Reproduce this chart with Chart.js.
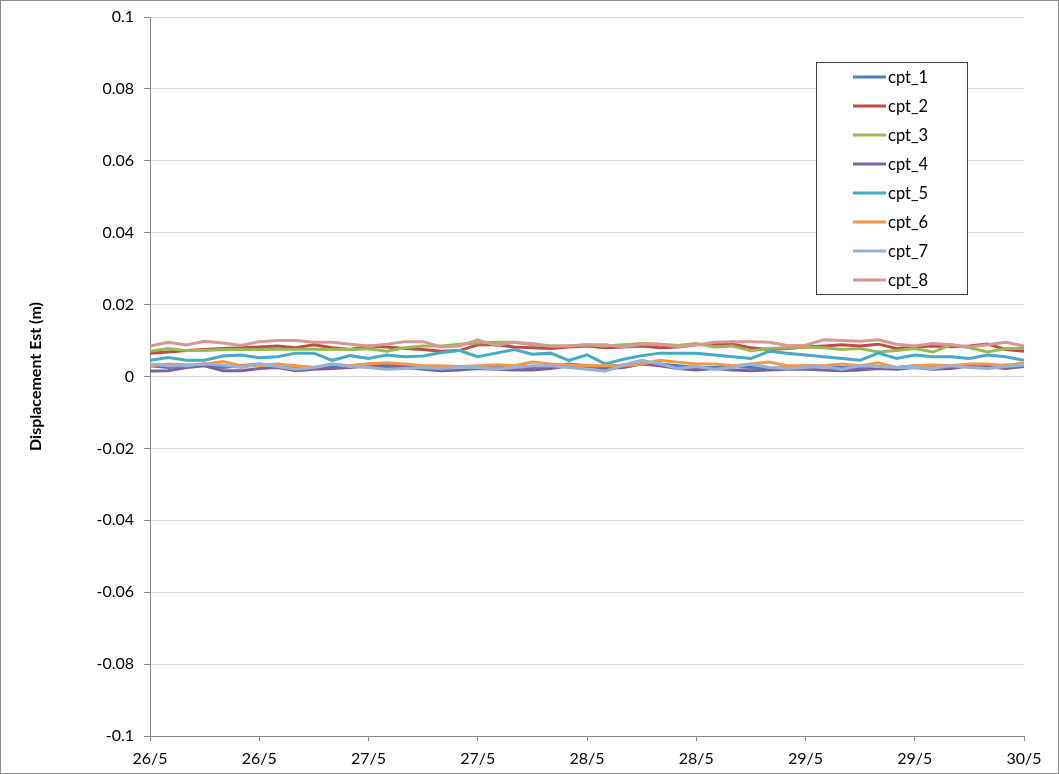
<!DOCTYPE html>
<html>
<head>
<meta charset="utf-8">
<script src="https://cdn.jsdelivr.net/npm/chart.js@4.4.1/dist/chart.umd.min.js"></script>
<style>
  html, body { margin: 0; padding: 0; background: #fff; }
  #wrap { width: 1059px; height: 774px; }
</style>
</head>
<body>
<div id="wrap"><canvas id="myChart" width="1059" height="774"></canvas></div>
<script>
// hours since 26/5 00:00
const hours = [0, 2, 4, 6, 8, 10, 12, 14, 16, 18, 20, 22, 24, 26, 28, 30, 32, 34, 36, 38, 40, 42, 44, 46, 48,
  50, 52, 54, 56, 58, 60, 62, 64, 66, 68, 70, 72, 74, 76, 78, 80, 82, 84, 86, 88, 90, 92, 94, 96];

const tickLabels = ["26/5", "26/5", "27/5", "27/5", "28/5", "28/5", "29/5", "29/5", "30/5"];

const cpt1 = [0.0030, 0.0025, 0.0030, 0.0035, 0.0025, 0.0030, 0.0035, 0.0030, 0.0028, 0.0025,
  0.0028, 0.0030, 0.0035, 0.0032, 0.0030, 0.0028, 0.0025, 0.0025, 0.0028, 0.0030,
  0.0025, 0.0025, 0.0030, 0.0035, 0.0030, 0.0028, 0.0032, 0.0035, 0.0035, 0.0030,
  0.0025, 0.0025, 0.0028, 0.0025, 0.0022, 0.0025, 0.0030, 0.0028, 0.0025, 0.0025,
  0.0028, 0.0025, 0.0030, 0.0028, 0.0025, 0.0030, 0.0028, 0.0032, 0.0030];
const cpt2 = [0.0065, 0.0068, 0.0072, 0.0075, 0.0078, 0.0080, 0.0082, 0.0085, 0.0080, 0.0088,
  0.0080, 0.0075, 0.0085, 0.0082, 0.0078, 0.0075, 0.0070, 0.0072, 0.0088, 0.0088,
  0.0082, 0.0080, 0.0078, 0.0082, 0.0085, 0.0080, 0.0082, 0.0085, 0.0080, 0.0082,
  0.0088, 0.0090, 0.0090, 0.0080, 0.0075, 0.0078, 0.0082, 0.0085, 0.0088, 0.0085,
  0.0090, 0.0078, 0.0082, 0.0085, 0.0083, 0.0085, 0.0090, 0.0075, 0.0070];
const cpt3 = [0.0070, 0.0078, 0.0072, 0.0072, 0.0075, 0.0075, 0.0075, 0.0076, 0.0076, 0.0076,
  0.0075, 0.0075, 0.0077, 0.0070, 0.0080, 0.0085, 0.0085, 0.0090, 0.0093, 0.0095,
  0.0095, 0.0088, 0.0085, 0.0085, 0.0088, 0.0085, 0.0088, 0.0092, 0.0090, 0.0086,
  0.0092, 0.0082, 0.0085, 0.0072, 0.0078, 0.0080, 0.0082, 0.0080, 0.0075, 0.0078,
  0.0068, 0.0072, 0.0078, 0.0068, 0.0088, 0.0080, 0.0068, 0.0078, 0.0078];
const cpt4 = [0.0015, 0.0016, 0.0025, 0.0030, 0.0016, 0.0016, 0.0022, 0.0025, 0.0016, 0.0020,
  0.0022, 0.0025, 0.0030, 0.0025, 0.0025, 0.0020, 0.0016, 0.0018, 0.0022, 0.0020,
  0.0018, 0.0018, 0.0022, 0.0030, 0.0028, 0.0022, 0.0025, 0.0035, 0.0030, 0.0022,
  0.0018, 0.0022, 0.0018, 0.0016, 0.0018, 0.0020, 0.0020, 0.0018, 0.0016, 0.0018,
  0.0022, 0.0020, 0.0025, 0.0020, 0.0022, 0.0030, 0.0028, 0.0022, 0.0028];
const cpt5 = [0.0045, 0.0053, 0.0045, 0.0045, 0.0057, 0.0060, 0.0052, 0.0055, 0.0065, 0.0065,
  0.0045, 0.0058, 0.0050, 0.0060, 0.0055, 0.0057, 0.0067, 0.0072, 0.0055, 0.0065,
  0.0075, 0.0062, 0.0065, 0.0045, 0.0060, 0.0035, 0.0048, 0.0058, 0.0065, 0.0065,
  0.0065, 0.0060, 0.0055, 0.0050, 0.0070, 0.0065, 0.0060, 0.0055, 0.0050, 0.0045,
  0.0065, 0.0050, 0.0060, 0.0055, 0.0055, 0.0050, 0.0060, 0.0055, 0.0045];
const cpt6 = [0.0030, 0.0035, 0.0033, 0.0035, 0.0042, 0.0030, 0.0030, 0.0035, 0.0030, 0.0025,
  0.0035, 0.0030, 0.0035, 0.0038, 0.0035, 0.0030, 0.0030, 0.0028, 0.0030, 0.0033,
  0.0030, 0.0040, 0.0035, 0.0032, 0.0030, 0.0030, 0.0030, 0.0035, 0.0045, 0.0040,
  0.0035, 0.0035, 0.0030, 0.0035, 0.0040, 0.0030, 0.0030, 0.0030, 0.0035, 0.0030,
  0.0038, 0.0025, 0.0030, 0.0032, 0.0030, 0.0035, 0.0035, 0.0030, 0.0038];
const cpt7 = [0.0035, 0.0030, 0.0030, 0.0035, 0.0032, 0.0025, 0.0035, 0.0028, 0.0020, 0.0025,
  0.0035, 0.0028, 0.0025, 0.0020, 0.0022, 0.0025, 0.0022, 0.0025, 0.0025, 0.0020,
  0.0025, 0.0030, 0.0030, 0.0025, 0.0020, 0.0015, 0.0032, 0.0045, 0.0035, 0.0022,
  0.0028, 0.0020, 0.0025, 0.0035, 0.0025, 0.0022, 0.0025, 0.0028, 0.0020, 0.0030,
  0.0028, 0.0025, 0.0025, 0.0022, 0.0030, 0.0025, 0.0022, 0.0028, 0.0032];
const cpt8 = [0.0085, 0.0095, 0.0088, 0.0098, 0.0093, 0.0086, 0.0097, 0.0100, 0.0100, 0.0095,
  0.0095, 0.0090, 0.0085, 0.0090, 0.0097, 0.0097, 0.0082, 0.0085, 0.0102, 0.0086,
  0.0095, 0.0092, 0.0085, 0.0085, 0.0088, 0.0088, 0.0082, 0.0090, 0.0090, 0.0083,
  0.0088, 0.0095, 0.0097, 0.0097, 0.0095, 0.0086, 0.0087, 0.0102, 0.0100, 0.0098,
  0.0102, 0.0090, 0.0085, 0.0092, 0.0088, 0.0082, 0.0088, 0.0095, 0.0085];

const seriesNames = ["cpt_1", "cpt_2", "cpt_3", "cpt_4", "cpt_5", "cpt_6", "cpt_7", "cpt_8"];
const seriesValues = [cpt1, cpt2, cpt3, cpt4, cpt5, cpt6, cpt7, cpt8];
const colors = ["#4A7EBB", "#BE4B48", "#98B954", "#7D60A0", "#46AAC5", "#F79646", "#95B3D7", "#D99694"];

const FONT = "Lato, 'Open Sans', sans-serif";

const datasets = seriesValues.map((vals, i) => ({
  label: seriesNames[i],
  data: vals.map((v, j) => ({ x: hours[j], y: v })),
  borderColor: colors[i],
  backgroundColor: colors[i],
  borderWidth: 3,
  pointRadius: 0,
  tension: 0,
  order: seriesNames.length - i   // last series drawn on top, like Excel
}));

// legend box inside the plot + outer frame
const excelLegend = {
  id: "excelLegend",
  afterDraw(chart) {
    const ctx = chart.ctx;
    ctx.save();
    ctx.strokeStyle = "#8c8c8c";
    ctx.lineWidth = 1;
    ctx.strokeRect(0.5, 0.5, chart.width - 1, chart.height - 1);

    const bx = 816.5, by = 62.5, bw = 151, bh = 232;
    ctx.fillStyle = "#fff";
    ctx.fillRect(bx, by, bw, bh);
    ctx.strokeStyle = "#404040";
    ctx.strokeRect(bx, by, bw, bh);
    ctx.font = "16.5px " + FONT;
    ctx.textBaseline = "middle";
    chart.data.datasets.forEach((ds, i) => {
      const y = 77 + i * 29;
      ctx.strokeStyle = ds.borderColor;
      ctx.lineWidth = 3;
      ctx.beginPath();
      ctx.moveTo(853, y);
      ctx.lineTo(886, y);
      ctx.stroke();
      ctx.fillStyle = "#000";
      ctx.fillText(ds.label, 888, y + 1);
    });
    ctx.restore();
  }
};

const config = {
  type: "line",
  data: { datasets: datasets },
  options: {
    responsive: false,
    animation: false,
    layout: { padding: { left: 0, top: 17, right: 35, bottom: 0 } },
    plugins: { legend: { display: false }, tooltip: { enabled: false } },
    scales: {
      x: {
        type: "linear",
        min: 0,
        max: 96,
        afterFit: (s) => { s.height = 38; },
        afterBuildTicks: (s) => { s.ticks = tickLabels.map((t, i) => ({ value: i * 12 })); },
        ticks: {
          autoSkip: false,
          maxRotation: 0,
          padding: 8,
          color: "#000",
          font: { family: FONT, size: 16 },
          callback: (v) => tickLabels[Math.round(v / 12)]
        },
        grid: { drawOnChartArea: false, drawTicks: true, tickLength: 5, tickColor: "#868686" },
        border: { color: "#868686" }
      },
      y: {
        min: -0.1,
        max: 0.1,
        afterFit: (s) => { s.width = 150; s.paddingTop = 0; s.paddingBottom = 0; },
        ticks: {
          stepSize: 0.02,
          padding: 10,
          color: "#000",
          font: { family: FONT, size: 16 },
          callback: (v) => Math.abs(v) < 1e-9 ? "0" : parseFloat(v.toFixed(2)).toString()
        },
        grid: { color: "#d9d9d9", tickLength: 6, tickColor: "#868686" },
        border: { color: "#868686" },
        title: {
          display: true,
          text: "Displacement Est (m)",
          color: "#000",
          font: { family: FONT, size: 16, weight: "bold" },
          padding: { top: 26, bottom: 0 }
        }
      }
    }
  },
  plugins: [excelLegend]
};

const myChart = new Chart(document.getElementById("myChart"), config);
</script>
</body>
</html>
